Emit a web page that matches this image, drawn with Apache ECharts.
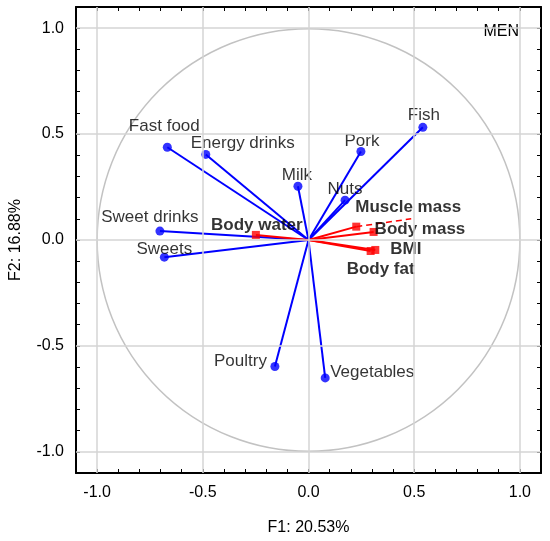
<!DOCTYPE html>
<html>
<head>
<meta charset="utf-8">
<script src="https://cdn.jsdelivr.net/npm/echarts@6/dist/echarts.min.js"></script>
<style>
html,body{margin:0;padding:0;background:#fff;}
#chart{width:550px;height:541px;}
</style>
</head>
<body>
<div id="chart"></div>
<script>
//数据 (blue = food variables, red = body composition)
var blueNames = ['Fish','Pork','Nuts','Milk','Energy drinks','Fast food','Sweet drinks','Sweets','Poultry','Vegetables'];
var blueF1 = [0.541, 0.248, 0.173, -0.050, -0.486, -0.668, -0.703, -0.682, -0.159, 0.079];
var blueF2 = [0.532, 0.418, 0.188, 0.254, 0.404, 0.438, 0.042, -0.081, -0.597, -0.651];

var redNames = ['Body water','Muscle mass','Body mass','BMI','Body fat'];
var redF1 = [-0.249, 0.226, 0.308, 0.316, 0.294];
var redF2 = [0.024, 0.063, 0.038, -0.047, -0.052];

// dashed red segment beyond Muscle mass
var dashedEnd = [0.486, 0.100];

var gridTicks = [-1.0, -0.5, 0.0, 0.5, 1.0];
var axisMin = -1.1, axisMax = 1.1;

// label placement: [align, dx, dy]
var labelPlace = {
	'Fish': ['center', 1, -12],
	'Pork': ['center', 1, -10],
	'Nuts': ['center', 0, -11],
	'Milk': ['center', -1, -11],
	'Energy drinks': ['left', -15, -11],
	'Fast food': ['center', -3, -21],
	'Sweet drinks': ['center', -10, -14],
	'Sweets': ['center', 0, -8],
	'Poultry': ['right', -8, -5],
	'Vegetables': ['left', 5, -6],
	'Body water': ['center', 1, -10],
	'Muscle mass': ['left', -1, -19],
	'Body mass': ['left', 1, -3],
	'BMI': ['left', 15, -1],
	'Body fat': ['center', 10, 18]
};

var FONT = 'Liberation Sans, Arial, sans-serif';

function pointData(names, xs, ys, bold){
	var out = [];
	for (var i = 0; i < names.length; i++) {
		var p = labelPlace[names[i]];
		out.push({
			name: names[i],
			value: [xs[i], ys[i]],
			label: {
				show: true, position: 'inside', formatter: '{b}',
				align: p[0], verticalAlign: 'middle', offset: [p[1], p[2]],
				color: '#000', fontSize: 17, fontFamily: FONT,
				textBorderWidth: 0, textShadowBlur: 0,
				fontWeight: bold ? 'bold' : 'normal'
			}
		});
	}
	return out;
}
function vectorData(xs, ys){
	var out = [];
	for (var i = 0; i < xs.length; i++) out.push({coords: [[0, 0], [xs[i], ys[i]]]});
	return out;
}
function tickLabel(v){
	var r = Math.round(v * 10) / 10;
	if (Math.abs(r * 2 - Math.round(r * 2)) < 1e-9) return r.toFixed(1);
	return '';
}

var gridLines = [];
gridTicks.forEach(function(t){ gridLines.push({xAxis: t}); gridLines.push({yAxis: t}); });

function axisBase(pos, showLabel){
	return {
		type: 'value', position: pos, min: axisMin, max: axisMax, interval: 0.1,
		axisLine: {show: true, onZero: false, lineStyle: {color: '#000', width: 2}},
		axisTick: {show: true, inside: true, length: 4, lineStyle: {color: '#000', width: 1}},
		axisLabel: {show: showLabel, formatter: tickLabel, color: '#000', fontSize: 16, fontFamily: FONT, margin: showLabel ? 12 : 0},
		splitLine: {show: false}
	};
}

var xMain = axisBase('bottom', true);
xMain.name = 'F1: 20.53%'; xMain.nameLocation = 'middle'; xMain.nameGap = 47;
xMain.nameTextStyle = {color: '#000', fontSize: 16, fontFamily: FONT};
var yMain = axisBase('left', true);
yMain.name = 'F2: 16.88%'; yMain.nameLocation = 'middle'; yMain.nameGap = 52;
yMain.nameTextStyle = {color: '#000', fontSize: 16, fontFamily: FONT};

var myChart = echarts.init(document.getElementById('chart'));
var option = {
	animation: false,
	backgroundColor: '#fff',
	grid: {left: 74, top: 7, width: 467, height: 467},
	xAxis: [xMain, axisBase('top', false)],
	yAxis: [yMain, axisBase('right', false)],
	graphic: [{
		type: 'text', right: 31, top: 24,
		style: {text: 'MEN', fill: '#000', fontSize: 16, fontFamily: FONT}
	}],
	series: [
		{
			// grid lines + unit circle
			type: 'custom', z: 1, silent: true,
			data: [[0, 0]],
			renderItem: function(params, api){
				var c = api.coord([0, 0]);
				var r = api.size([1, 1])[0];
				return {type: 'circle', shape: {cx: c[0], cy: c[1], r: r},
					style: {fill: 'none', stroke: '#c2c2c2', lineWidth: 1.5}};
			},
			markLine: {
				silent: true, symbol: ['none', 'none'], label: {show: false},
				lineStyle: {color: '#d4d4d4', width: 1.5, type: 'solid'},
				data: gridLines
			}
		},
		{
			type: 'lines', coordinateSystem: 'cartesian2d', z: 3, silent: true,
			lineStyle: {color: '#0000ff', width: 2, opacity: 1},
			data: vectorData(blueF1, blueF2)
		},
		{
			type: 'lines', coordinateSystem: 'cartesian2d', z: 3, silent: true,
			lineStyle: {color: '#ff0000', width: 2, opacity: 1},
			data: vectorData(redF1, redF2)
		},
		{
			type: 'lines', coordinateSystem: 'cartesian2d', z: 3, silent: true,
			lineStyle: {color: '#ff0000', width: 1.5, type: [6, 4], opacity: 1},
			data: [{coords: [[redF1[1], redF2[1]], dashedEnd]}]
		},
		{
			type: 'scatter', z: 4, symbol: 'circle', symbolSize: 9,
			itemStyle: {color: '#0000ff'},
			data: pointData(blueNames, blueF1, blueF2, false)
		},
		{
			type: 'scatter', z: 4, symbol: 'rect', symbolSize: 8,
			itemStyle: {color: '#ff0000'},
			data: pointData(redNames, redF1, redF2, true)
		}
	]
};
myChart.setOption(option);
</script>
</body>
</html>
